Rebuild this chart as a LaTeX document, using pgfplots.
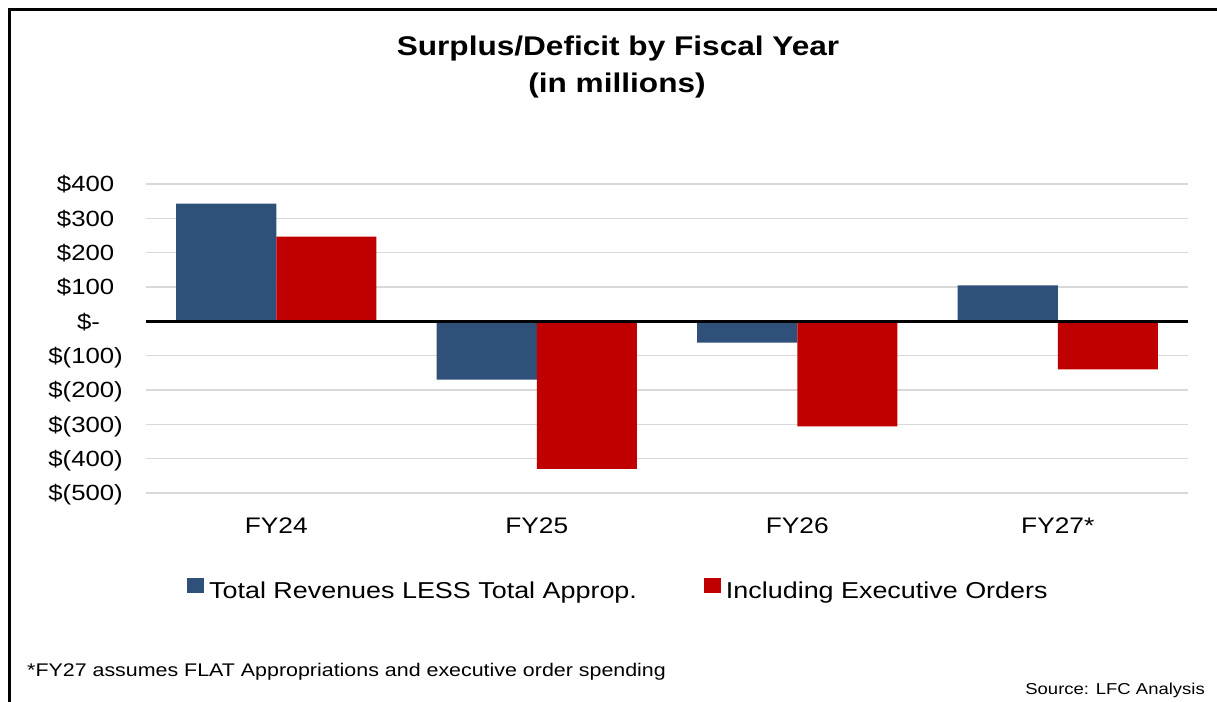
\documentclass[border=0pt]{standalone}
\usepackage{pgfplots}
\pgfplotsset{compat=1.18}
\usepackage{fontspec}
\setmainfont{Liberation Sans}[FakeStretch=1.17]

\definecolor{barblue}{HTML}{2E5079}
\definecolor{barred}{HTML}{C00000}
\definecolor{gridgray}{HTML}{D9D9D9}

\begin{document}
\begin{tikzpicture}
% chart frame (cut off at right and bottom in the reference)
\draw[line width=3bp] (9.5bp,-20bp) -- (9.5bp,692.5bp) -- (1240bp,692.5bp);

% title
\node[anchor=base, inner sep=0pt, font=\fontsize{27bp}{32bp}\selectfont\bfseries]
  at (618bp,646bp) {Surplus/Deficit by Fiscal Year};
\node[anchor=base, inner sep=0pt, font=\fontsize{27bp}{32bp}\selectfont\bfseries]
  at (617bp,609bp) {(in millions)};

\begin{axis}[
    at={(146bp,209bp)}, anchor=south west,
    scale only axis,
    width=1042bp, height=309bp,
    xmin=-0.5, xmax=3.5,
    ymin=-500, ymax=400,
    ybar=0pt, bar width=0.384,
    axis line style={draw=none},
    tick style={draw=none},
    major tick length=0pt,
    ymajorgrids,
    grid style={gridgray, line width=1.5bp},
    xtick={0,1,2,3},
    xticklabels={FY24,FY25,FY26,FY27*},
    ytick={-500,-400,-300,-200,-100,0,100,200,300,400},
    yticklabels={\$(500),\$(400),\$(300),\$(200),\$(100),\$-\hphantom{0)},
                 \$100\hphantom{)},\$200\hphantom{)},\$300\hphantom{)},\$400\hphantom{)}},
    xticklabel style={font=\fontsize{22.5bp}{27bp}\selectfont, anchor=base, inner sep=0pt, yshift=-40bp},
    yticklabel style={font=\fontsize{22bp}{26bp}\selectfont, anchor=base east, inner sep=0pt,
                      xshift=-23bp, yshift=-7.9bp},
    legend columns=2,
    legend style={at={(0.0393,-0.3107)}, anchor=west, draw=none, fill=none, inner sep=0pt,
                  font=\fontsize{23bp}{27bp}\selectfont,
                  nodes={inner sep=0pt},
                  /tikz/every odd column/.append style={column sep=5bp},
                  /tikz/every even column/.append style={column sep=67bp}},
    legend image code/.code={\fill[#1] (0bp,-1.5bp) rectangle (17bp,13.5bp);},
]
\addplot[fill=barblue, draw=none] coordinates {(0,343) (1,-170) (2,-62) (3,105)};
\addplot[fill=barred, draw=none] coordinates {(0,247) (1,-430) (2,-306) (3,-140)};
\legend{Total Revenues LESS Total Approp., Including Executive Orders}
\draw[line width=3.5bp] (axis cs:-0.5,0) -- (axis cs:3.5,0);
\end{axis}

% footnote and source
\node[anchor=base west, inner sep=0pt, font=\fontsize{18.3bp}{22bp}\selectfont]
  at (27bp,26bp) {*FY27 assumes FLAT Appropriations and executive order spending};
\node[anchor=base east, inner sep=0pt, font=\fontsize{15.8bp}{19bp}\selectfont]
  at (1205bp,8bp) {Source: LFC Analysis};

\pgfresetboundingbox
\path[use as bounding box] (0bp,0bp) rectangle (1217bp,702bp);
\end{tikzpicture}
\end{document}
